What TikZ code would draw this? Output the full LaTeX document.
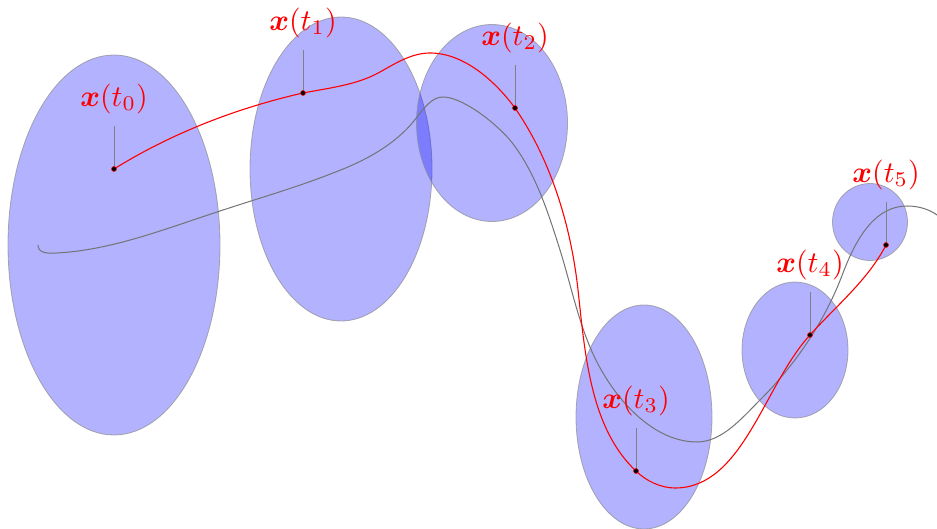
\documentclass[tikz,border=0pt]{standalone}
\usepackage{bm}
\begin{document}
\begin{tikzpicture}[x=1pt,y=-1pt,
  blob/.style={fill=blue,fill opacity=0.3,draw=black!45,draw opacity=0.7,line width=0.8pt},
  traj/.style={red,line width=1.1pt},
  path0/.style={black!55,line width=1pt},
  stem/.style={black!50,line width=1pt},
  pt/.style={circle,fill=black,draw=red,line width=0.5pt,inner sep=0pt,minimum size=5pt},
  lbl/.style={text=red,scale=3,inner sep=0pt,outer sep=4pt,anchor=south}]
\useasboundingbox (0,0) rectangle (937,529);
% uncertainty ellipses
\path[blob] (114,245) ellipse [x radius=106, y radius=190];
\path[blob] (341,169) ellipse [x radius=91, y radius=152];
\path[blob] (492,123) ellipse [x radius=75.5, y radius=98.5];
\path[blob] (644,417) ellipse [x radius=68, y radius=112];
\path[blob] (795,350) ellipse [x radius=53, y radius=68];
\path[blob] (870,222) ellipse [x radius=37.5, y radius=38.5];
% true path (gray)
\draw[path0] (38,245) .. controls (38,252) and (45,254) .. (57,253)
  .. controls (112,250) and (165,229) .. (217,212)
  .. controls (256,199) and (295,188) .. (333,173)
  .. controls (365,161) and (397,144) .. (417,117)
  .. controls (424,108) and (432,97) .. (443,97)
  .. controls (460,97) and (490,117.5) .. (510,140)
  .. controls (535,171) and (548,212) .. (560,250)
  .. controls (570,282) and (577,316) .. (590,347)
  .. controls (608,391) and (649,442) .. (697,442)
  .. controls (722,442) and (742,418) .. (760,400)
  .. controls (796,364) and (825,321) .. (843,273)
  .. controls (857,236) and (876,206) .. (907,206)
  .. controls (920,206) and (930,210) .. (937,215);
% points
\foreach \i/\px/\py in {0/114/169, 1/303/93, 2/515/108, 3/636/471, 4/810/335, 5/886/245}{
  \coordinate (c\i) at (\px,\py);
  \coordinate (s\i) at (\px,\py-43);
}
% estimated trajectory (red)
\draw[traj] (c0) .. controls (172,133) and (237,108) .. (c1)
  .. controls (329,88) and (357,85) .. (380,72)
  .. controls (396,63) and (412,53) .. (430,53)
  .. controls (464,53) and (495,81) .. (c2)
  .. controls (551,160) and (571,226) .. (578,290)
  .. controls (585,353) and (590,428) .. (c3)
  .. controls (646,481) and (661,488) .. (675,488)
  .. controls (743,488) and (764,385) .. (c4)
  .. controls (836,306) and (868,280) .. (c5);
% stems, dots and labels
\foreach \i in {0,...,5}{
  \node[lbl] (l\i) at (s\i) {$\bm{x}(t_{\i})$};
  \draw[stem] (s\i) -- (c\i);
  \node[pt] (p\i) at (c\i) {};
}
\end{tikzpicture}
\end{document}
